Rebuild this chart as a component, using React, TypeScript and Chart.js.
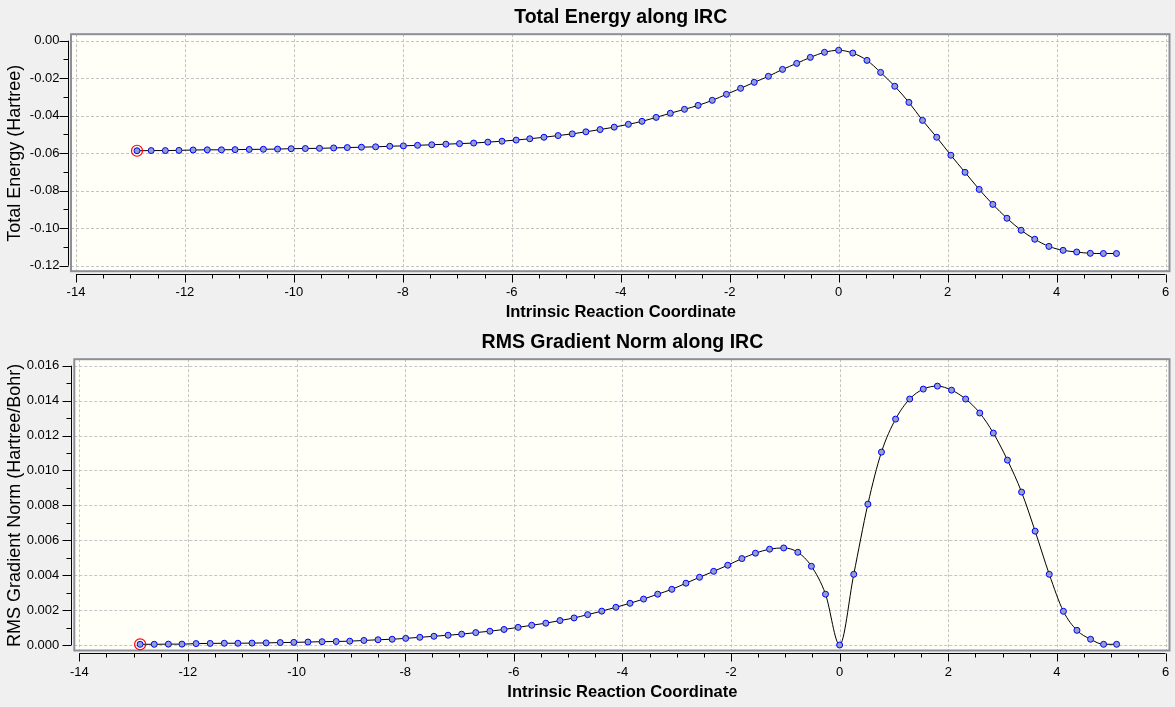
import React, { useEffect, useRef } from 'react';
import { Chart, registerables } from 'chart.js';

Chart.register(...registerables);
Chart.defaults.font.family = '"Liberation Sans", Arial, sans-serif';

// IRC coordinate of every point (reactant side ... TS at 0 ... product side)
const irc = [
  -12.88, -12.62, -12.36, -12.11, -11.85, -11.59, -11.33, -11.08, -10.82, -10.56,
  -10.30, -10.05, -9.79, -9.53, -9.27, -9.02, -8.76, -8.50, -8.24, -7.99,
  -7.73, -7.47, -7.21, -6.96, -6.70, -6.44, -6.18, -5.92, -5.67, -5.41,
  -5.15, -4.89, -4.64, -4.38, -4.12, -3.86, -3.61, -3.35, -3.09, -2.83,
  -2.58, -2.32, -2.06, -1.80, -1.55, -1.29, -1.03, -0.77, -0.52, -0.26,
  0.00, 0.26, 0.52, 0.77, 1.03, 1.29, 1.54, 1.80, 2.06, 2.32,
  2.58, 2.83, 3.09, 3.35, 3.60, 3.86, 4.12, 4.37, 4.62, 4.86, 5.10,
];

// Total energy (Hartree)
const energy = [
  -0.0587, -0.0586, -0.0586, -0.0585, -0.0583, -0.0582, -0.0582, -0.0581, -0.0580, -0.0579,
  -0.0578, -0.0576, -0.0575, -0.0574, -0.0572, -0.0570, -0.0568, -0.0566, -0.0563, -0.0561,
  -0.0558, -0.0555, -0.0552, -0.0549, -0.0546, -0.0541, -0.0536, -0.0530, -0.0523, -0.0515,
  -0.0506, -0.0497, -0.0486, -0.0474, -0.0461, -0.0446, -0.0430, -0.0409, -0.0387, -0.0366,
  -0.0345, -0.0318, -0.0286, -0.0254, -0.0222, -0.0190, -0.0153, -0.0121, -0.0089, -0.0062,
  -0.0051, -0.0066, -0.0105, -0.0169, -0.0243, -0.0329, -0.0425, -0.0515, -0.0611, -0.0702,
  -0.0793, -0.0873, -0.0947, -0.1011, -0.1059, -0.1097, -0.1118, -0.1127, -0.1134, -0.1135, -0.1135,
];

// RMS gradient norm (Hartree/Bohr)
const gradient = [
  0.00004, 0.00004, 0.00005, 0.00005, 0.00008, 0.00009, 0.00010, 0.00010, 0.00011, 0.00012,
  0.00014, 0.00015, 0.00017, 0.00019, 0.00020, 0.00022, 0.00026, 0.00030, 0.00033, 0.00038,
  0.00044, 0.00050, 0.00056, 0.00062, 0.00071, 0.00079, 0.00089, 0.00101, 0.00113, 0.00125,
  0.00140, 0.00155, 0.00174, 0.00194, 0.00216, 0.00239, 0.00263, 0.00291, 0.00319, 0.00354,
  0.00388, 0.00422, 0.00457, 0.00495, 0.00526, 0.00549, 0.00556, 0.00531, 0.00451, 0.00291,
  0.00000, 0.00405, 0.00807, 0.01105, 0.01294, 0.01409, 0.01466, 0.01483, 0.01460, 0.01409,
  0.01329, 0.01214, 0.01059, 0.00876, 0.00652, 0.00405, 0.00193, 0.00084, 0.00033, 0.00004, 0.00004,
];

const X_MIN = -14;
const X_MAX = 6;
const X_STEP = 2;

// frame, dashed grid, offset axes with major/minor ticks
const framePlugin = {
  id: 'ircFrame',
  beforeDraw(chart: any) {
    const { ctx, chartArea: a } = chart;
    const xs = chart.scales.x;
    const ys = chart.scales.y;
    const fl = a.left - 5, ft = a.top - 6.5, fr = a.right + 4, fb = a.bottom + 5.5;
    const xp = xs.ticks.map((t: any) => xs.getPixelForValue(t.value));
    const yp = ys.ticks.map((t: any) => ys.getPixelForValue(t.value));

    ctx.save();
    ctx.fillStyle = '#fffff7';
    ctx.fillRect(fl, ft, fr - fl, fb - ft);

    ctx.strokeStyle = '#c4c4c4';
    ctx.lineWidth = 1;
    ctx.setLineDash([3, 2]);
    ctx.beginPath();
    xp.forEach((p: number) => { const v = Math.round(p) + 0.5; ctx.moveTo(v, ft); ctx.lineTo(v, fb); });
    yp.forEach((p: number) => { const v = Math.round(p) + 0.5; ctx.moveTo(fl, v); ctx.lineTo(fr, v); });
    ctx.stroke();
    ctx.setLineDash([]);

    ctx.strokeStyle = '#8b9098';
    ctx.lineWidth = 2;
    ctx.strokeRect(fl, ft, fr - fl, fb - ft);

    const ax = Math.round(a.left - 8) + 0.5;
    const ay = Math.round(a.bottom + 8) + 0.5;
    ctx.strokeStyle = '#000';
    ctx.lineWidth = 1;
    ctx.beginPath();
    ctx.moveTo(ax, Math.min(...yp));
    ctx.lineTo(ax, Math.max(...yp));
    ctx.moveTo(Math.min(...xp), ay);
    ctx.lineTo(Math.max(...xp), ay);

    yp.forEach((p: number, i: number) => {
      const v = Math.round(p) + 0.5;
      ctx.moveTo(ax - 9, v); ctx.lineTo(ax, v);
      if (i < yp.length - 1) {
        const m = Math.round((p + yp[i + 1]) / 2) + 0.5;
        ctx.moveTo(ax - 5, m); ctx.lineTo(ax, m);
      }
    });
    xp.forEach((p: number, i: number) => {
      const v = Math.round(p) + 0.5;
      ctx.moveTo(v, ay); ctx.lineTo(v, ay + 8);
      if (i < xp.length - 1) {
        for (let j = 1; j < 4; j++) {
          const m = Math.round(p + (xp[i + 1] - p) * j / 4) + 0.5;
          ctx.moveTo(m, ay); ctx.lineTo(m, ay + 4);
        }
      }
    });
    ctx.stroke();
    ctx.restore();
  },
};

type PanelProps = {
  title: string;
  yTitle: string;
  values: number[];
  yMin: number;
  yMax: number;
  yStep: number;
  decimals: number;
  height: number;
  areaLeft: number;
  areaBottom: number;
  yLabelPad: number;
  xTitlePad: number;
};

const IrcPanel: React.FC<PanelProps> = (p) => {
  const ref = useRef<HTMLCanvasElement>(null);

  useEffect(() => {
    if (!ref.current) return;
    const chart = new Chart(ref.current, {
      type: 'line',
      data: {
        datasets: [
          {
            data: irc.map((x, i) => ({ x, y: p.values[i] })),
            borderColor: '#000000',
            borderWidth: 1,
            pointRadius: 3,
            pointBorderWidth: 1,
            pointBorderColor: '#0000ff',
            pointBackgroundColor: '#949fca',
            cubicInterpolationMode: 'monotone',
            clip: false,
          },
          {
            data: [{ x: irc[0], y: p.values[0] }],
            showLine: false,
            pointRadius: 5.5,
            pointBorderWidth: 1.2,
            pointBorderColor: '#ff0000',
            pointBackgroundColor: 'rgba(0,0,0,0)',
            clip: false,
            order: -1,
          },
        ],
      },
      options: {
        animation: false,
        responsive: true,
        maintainAspectRatio: false,
        events: [],
        layout: { padding: { left: 0, right: 9.5, top: 0, bottom: 0 } },
        plugins: {
          legend: { display: false },
          tooltip: { enabled: false },
          title: {
            display: true,
            text: p.title,
            fullSize: false,
            color: '#000',
            font: { size: 19.5, weight: 'bold' },
            padding: { top: 5.6, bottom: 11.7 },
          },
        },
        scales: {
          x: {
            type: 'linear',
            min: X_MIN,
            max: X_MAX,
            ticks: { stepSize: X_STEP, padding: 0, color: '#000', font: { size: 13 } },
            grid: { display: false, drawTicks: true, tickLength: 19.3 },
            border: { display: false },
            title: {
              display: true,
              text: 'Intrinsic Reaction Coordinate',
              color: '#000',
              font: { size: 16.5, weight: 'bold' },
              padding: { top: 0, bottom: p.xTitlePad },
            },
            afterFit: (s: any) => { s.height = p.height - p.areaBottom; },
          },
          y: {
            type: 'linear',
            min: p.yMin,
            max: p.yMax,
            ticks: {
              stepSize: p.yStep,
              padding: 0,
              color: '#000',
              font: { size: 13 },
              callback: (v: any) => (Math.abs(v) < 1e-9 ? 0 : Number(v)).toFixed(p.decimals),
            },
            grid: { display: false, drawTicks: true, tickLength: p.yLabelPad },
            border: { display: false },
            title: {
              display: true,
              text: p.yTitle,
              color: '#000',
              font: { size: 18 },
              padding: { top: 4.2, bottom: 0 },
            },
            afterFit: (s: any) => { s.width = p.areaLeft; },
          },
        },
      } as any,
      plugins: [framePlugin],
    });
    return () => chart.destroy();
  }, [p]);

  return (
    <div style={{ position: 'relative', width: 1175, height: p.height }}>
      <canvas ref={ref}></canvas>
    </div>
  );
};

const App: React.FC = () => (
  <div style={{ position: 'absolute', left: 0, top: 0, width: 1175, height: 707, background: '#f0f0f0', overflow: 'hidden' }}>
    <IrcPanel
      title="Total Energy along IRC"
      yTitle="Total Energy (Hartree)"
      values={energy}
      yMin={-0.12}
      yMax={0}
      yStep={0.02}
      decimals={2}
      height={325}
      areaLeft={76}
      areaBottom={265.7}
      yLabelPad={16.5}
      xTitlePad={2.8}
    />
    <IrcPanel
      title="RMS Gradient Norm along IRC"
      yTitle="RMS Gradient Norm (Hartree/Bohr)"
      values={gradient}
      yMin={0}
      yMax={0.016}
      yStep={0.002}
      decimals={3}
      height={382}
      areaLeft={79.3}
      areaBottom={320}
      yLabelPad={20}
      xTitlePad={4.8}
    />
  </div>
);

export default App;
